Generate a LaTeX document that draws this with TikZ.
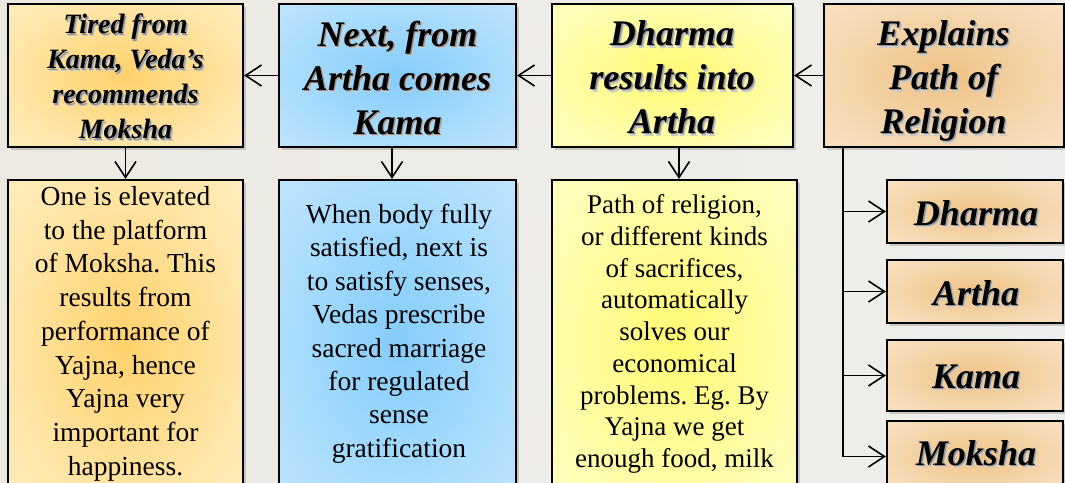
\documentclass[tikz,border=0pt]{standalone}
\usepackage{fontspec}
\setmainfont{Liberation Serif}
\usetikzlibrary{shadows,arrows.meta,calc}
\frenchspacing

\pgfdeclareradialshading{shOrange}{\pgfpoint{0bp}{0bp}}{rgb(0bp)=(1,0.82,0.42); rgb(25bp)=(1,0.90,0.66); rgb(50bp)=(1,0.96,0.87)}
\pgfdeclareradialshading{shBlue}{\pgfpoint{0bp}{0bp}}{rgb(0bp)=(0.52,0.80,0.98); rgb(25bp)=(0.68,0.87,0.99); rgb(50bp)=(0.84,0.93,1)}
\pgfdeclareradialshading{shYellow}{\pgfpoint{0bp}{0bp}}{rgb(0bp)=(1,0.98,0.45); rgb(25bp)=(1,0.99,0.68); rgb(50bp)=(1,1,0.86)}
\pgfdeclareradialshading{shTan}{\pgfpoint{0bp}{0bp}}{rgb(0bp)=(0.94,0.76,0.52); rgb(25bp)=(0.96,0.85,0.70); rgb(50bp)=(0.99,0.92,0.84)}

\newcommand\shd[1]{\makebox[0pt][l]{\hspace{2.4pt}\raisebox{-2.4pt}[0pt][0pt]{\color{black!20}#1}}\makebox[0pt][l]{\hspace{1.3pt}\raisebox{-1.3pt}[0pt][0pt]{\color{black!42}#1}}#1}

\definecolor{bgL}{RGB}{236,233,226}
\definecolor{bgR}{RGB}{238,238,236}

\tikzset{
  box/.style={draw=black, line width=2.2pt, inner sep=0pt, shade,
    drop shadow={shadow xshift=2.5pt, shadow yshift=-2.5pt, opacity=0.35}},
  headA/.style={align=center, inner sep=0pt, font=\bfseries\itshape\fontsize{28}{35}\selectfont},
  headB/.style={align=center, inner sep=0pt, font=\bfseries\itshape\fontsize{36}{44}\selectfont},
  bodyE/.style={align=center, inner sep=0pt, font=\fontsize{27.5}{33.75}\selectfont},
  bodyF/.style={align=center, inner sep=0pt, font=\fontsize{27.5}{33.4}\selectfont},
  bodyG/.style={align=center, inner sep=0pt, font=\fontsize{27}{31.75}\selectfont},
  conn/.style={line width=1.6pt, -{Straight Barb[length=16pt,width=21pt]}},
  trunkline/.style={line width=1.6pt}
}

\begin{document}
\begin{tikzpicture}[x=1pt,y=-1pt]
\useasboundingbox (0,0) rectangle (1065,482);
\clip (0,0) rectangle (1065,482);
\shade[left color=bgL, right color=bgR] (0,0) rectangle (1065,482);

% top row boxes
\node[box, shading=shOrange, minimum width=235pt, minimum height=143pt] (A) at (125.5,75.5) {};
\node[box, shading=shBlue,   minimum width=237pt, minimum height=143pt] (B) at (397.5,75.5) {};
\node[box, shading=shYellow, minimum width=241pt, minimum height=143pt] (C) at (672.5,75.5) {};
\node[box, shading=shTan,    minimum width=240pt, minimum height=143pt] (D) at (944,75.5) {};

% bottom row boxes
\node[box, shading=shOrange, minimum width=235pt, minimum height=325pt] (E) at (125.5,342.5) {};
\node[box, shading=shBlue,   minimum width=237pt, minimum height=325pt] (F) at (397.5,342.5) {};
\node[box, shading=shYellow, minimum width=245pt, minimum height=325pt] (G) at (674.5,342.5) {};

% small boxes
\node[box, shading=shTan, minimum width=176pt, minimum height=63pt] (Dh) at (975,211.5) {};
\node[box, shading=shTan, minimum width=176pt, minimum height=63pt] (Ar) at (975,291.5) {};
\node[box, shading=shTan, minimum width=176pt, minimum height=71pt] (Ka) at (975,375.5) {};
\node[box, shading=shTan, minimum width=176pt, minimum height=71pt] (Mo) at (975,456.5) {};

% heading texts
\node[headA, anchor=north] (tA) at (125.5,14) {\shd{Tired from}\\\shd{Kama, Veda’s}\\\shd{recommends}\\\shd{Moksha}};
\node[headB, anchor=north] (tB) at (397.5,20.5) {\shd{Next, from}\\\shd{Artha comes}\\\shd{Kama}};
\node[headB, anchor=north] (tC) at (672,20.5) {\shd{Dharma}\\\shd{results into}\\\shd{Artha}};
\node[headB, anchor=north] (tD) at (943.5,20.5) {\shd{Explains}\\\shd{Path of}\\\shd{Religion}};

\node[headB, anchor=base] (tDh) at (976,225) {\shd{Dharma}};
\node[headB, anchor=base] (tAr) at (976,305) {\shd{Artha}};
\node[headB, anchor=base] (tKa) at (976,388) {\shd{Kama}};
\node[headB, anchor=base] (tMo) at (976,465) {\shd{Moksha}};

% body texts
\node[bodyE, anchor=north] (tE) at (125.5,186) {One is elevated\\to the platform\\of Moksha. This\\results from\\performance of\\Yajna, hence\\Yajna very\\important for\\happiness.};
\node[bodyF, anchor=north] (tF) at (399,204) {When body fully\\satisfied, next is\\to satisfy senses,\\Vedas prescribe\\sacred marriage\\for regulated\\sense\\gratification};
\node[bodyG, anchor=north] (tG) at (674.5,194.5) {Path of religion,\\or different kinds\\of sacrifices,\\automatically\\solves our\\economical\\problems. Eg. By\\Yajna we get\\enough food, milk};

% horizontal connectors
\draw[conn] (D.west) -- (C.east);
\draw[conn] (C.west) -- (B.east);
\draw[conn] (B.west) -- (A.east);

% vertical connectors
\coordinate (bx) at (392,0);
\coordinate (cx) at (679,0);
\draw[conn] (A.south) -- (E.north);
\draw[conn] (B.south -| bx) -- (F.north -| bx);
\draw[conn] (C.south -| cx) -- (G.north -| cx);

% trunk from D
\coordinate (trunk) at ([xshift=20pt]D.south west);
\coordinate (trunkend) at (trunk |- Mo.west);
\draw[trunkline] (trunk) -- (trunkend);
\draw[conn] (trunk |- Dh.west) -- (Dh.west);
\draw[conn] (trunk |- Ar.west) -- (Ar.west);
\draw[conn] (trunk |- Ka.west) -- (Ka.west);
\draw[conn] (trunkend) -- (Mo.west);
\end{tikzpicture}
\end{document}
